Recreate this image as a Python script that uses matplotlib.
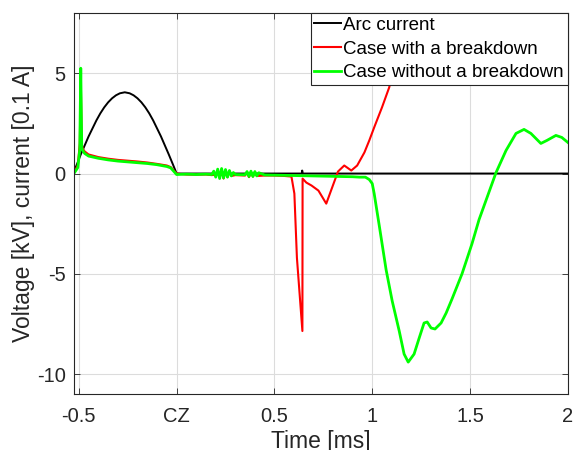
import numpy as np
import matplotlib.pyplot as plt

plt.rcParams['font.family'] = ['Liberation Sans', 'DejaVu Sans']
plt.rcParams['axes.unicode_minus'] = False

# ---------------- data ----------------
arc_t = [-0.525, -0.51, -0.49, -0.47, -0.45, -0.43, -0.41, -0.39, -0.37, -0.35,
         -0.33, -0.31, -0.29, -0.265, -0.24, -0.22, -0.2, -0.18, -0.16, -0.14,
         -0.12, -0.1, -0.08, -0.06, -0.04, -0.02, 0.0,
         0.64, 0.642, 0.645, 2.0]
arc_v = [0.1, 0.45, 0.95, 1.4, 1.85, 2.25, 2.65, 3.0, 3.3, 3.55,
         3.75, 3.9, 4.0, 4.05, 4.0, 3.9, 3.75, 3.55, 3.3, 3.0,
         2.65, 2.25, 1.85, 1.4, 0.95, 0.48, 0.0,
         0.0, 0.15, 0.0, 0.0]

red_t = [-0.525, -0.505, -0.495, -0.49, -0.485, -0.48, -0.47, -0.45, -0.4, -0.35,
         -0.3, -0.25, -0.2, -0.15, -0.1, -0.05, -0.03, 0.0,
         0.05, 0.1, 0.15, 0.18, 0.2, 0.21, 0.22, 0.23, 0.24, 0.25, 0.26, 0.27, 0.28,
         0.3, 0.35, 0.36, 0.37, 0.38, 0.39, 0.40, 0.41, 0.45, 0.5, 0.55,
         0.587, 0.602, 0.615, 0.643, 0.644, 0.663, 0.69, 0.725, 0.765, 0.795,
         0.825, 0.857, 0.893, 0.923, 0.96, 0.985, 1.01, 1.05, 1.087, 1.097, 1.2]
red_v = [0.05, 0.4, 1.5, 4.8, 1.45, 1.25, 1.1, 0.95, 0.82, 0.74,
         0.68, 0.64, 0.6, 0.55, 0.48, 0.4, 0.32, 0.0,
         -0.05, -0.06, -0.05, -0.08, -0.05, 0.12, -0.2, 0.15, -0.25, 0.12, -0.18, 0.1, -0.12,
         -0.08, -0.1, 0.05, -0.18, 0.06, -0.15, 0.04, -0.12, -0.1, -0.1, -0.12,
         -0.15, -1.0, -4.2, -7.85, -0.25, -0.45, -0.6, -0.85, -1.5, -0.7,
         0.1, 0.4, 0.15, 0.4, 1.05, 1.65, 2.3, 3.3, 4.3, 4.75, 9.0]

green_t = [-0.525, -0.505, -0.495, -0.49, -0.485, -0.48, -0.47, -0.45, -0.4, -0.35,
           -0.3, -0.25, -0.2, -0.15, -0.1, -0.05, -0.03, 0.0,
           0.05, 0.1, 0.15, 0.18, 0.19, 0.2, 0.21, 0.22, 0.23, 0.24, 0.25, 0.26, 0.27,
           0.28, 0.29, 0.3, 0.35, 0.36, 0.37, 0.38, 0.39, 0.40, 0.41, 0.42, 0.45,
           0.5, 0.6, 0.7, 0.8, 0.9, 0.934, 0.965, 0.985, 1.0, 1.01, 1.036, 1.071,
           1.102, 1.138, 1.163, 1.184, 1.214, 1.24, 1.265, 1.281, 1.301, 1.321,
           1.352, 1.378, 1.408, 1.459, 1.51, 1.546, 1.633, 1.684, 1.735, 1.776,
           1.811, 1.862, 1.893, 1.939, 1.969, 2.0]
green_v = [0.0, 0.3, 1.2, 5.25, 1.3, 1.15, 1.0, 0.87, 0.76, 0.68,
           0.62, 0.58, 0.54, 0.5, 0.44, 0.35, 0.28, -0.05,
           -0.03, -0.05, -0.03, -0.05, 0.12, -0.18, 0.22, -0.25, 0.25, -0.22, 0.2, -0.18, 0.15,
           -0.12, 0.05, -0.05, -0.06, 0.1, -0.15, 0.12, -0.15, 0.1, -0.12, 0.04, -0.07,
           -0.08, -0.1, -0.12, -0.14, -0.16, -0.18, -0.18, -0.3, -0.5, -1.0, -2.6, -4.8,
           -6.35, -7.85, -9.0, -9.4, -9.0, -8.2, -7.45, -7.4, -7.7, -7.75,
           -7.45, -6.95, -6.25, -5.0, -3.5, -2.3, 0.05, 1.15, 2.0, 2.2,
           2.0, 1.5, 1.65, 1.9, 1.8, 1.55]

xticks = [-0.5, 0, 0.5, 1, 1.5, 2]
xticklabels = ['-0.5', 'CZ', '0.5', '1', '1.5', '2']
yticks = [-10, -5, 0, 5]

# ---------------- plot ----------------
fig = plt.figure(figsize=(5.73, 4.5), dpi=100)
ax = fig.add_axes([0.129, 0.124, 0.862, 0.847])

ax.plot(arc_t, arc_v, color='black', linewidth=1.4, label='Arc current')
ax.plot(red_t, red_v, color='#ff0000', linewidth=1.5, label='Case with a breakdown')
ax.plot(green_t, green_v, color='#00ff00', linewidth=2.0, label='Case without a breakdown')

ax.set_xlim(-0.525, 2.0)
ax.set_ylim(-11, 8)
ax.set_xticks(xticks)
ax.set_xticklabels(xticklabels)
ax.set_yticks(yticks)

ax.grid(True, color='#dcdcdc', linewidth=0.8)
ax.set_axisbelow(True)
ax.tick_params(direction='in', top=True, right=True, labelsize=14.5,
               colors='#262626', length=4, width=0.6)
ax.tick_params(axis='x', pad=9)
ax.tick_params(axis='y', pad=6)
for s in ax.spines.values():
    s.set_color('#262626')
    s.set_linewidth(0.8)

ax.set_xlabel('Time [ms]', fontsize=16.5, color='#262626', labelpad=3)
ax.set_ylabel('Voltage [kV], current [0.1 A]', fontsize=16.5, color='#262626', labelpad=1)

leg = ax.legend(loc='upper right', fontsize=13.5, frameon=True, fancybox=False,
                borderaxespad=0, borderpad=0.2, labelspacing=0.35,
                handlelength=1.4, handletextpad=0.15)
leg.get_frame().set_edgecolor('#262626')
leg.get_frame().set_linewidth(0.8)
leg.get_frame().set_alpha(1)

plt.savefig('out.png', dpi=100)
